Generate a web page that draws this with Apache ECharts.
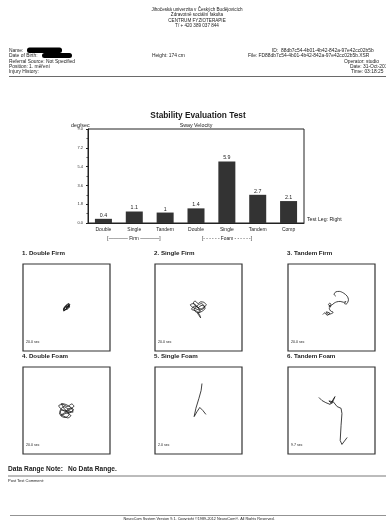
<!DOCTYPE html>
<html><head><meta charset="utf-8">
<script src="https://cdn.jsdelivr.net/npm/echarts@6/dist/echarts.min.js"></script>
<style>html,body{margin:0;padding:0;background:#fff}#c{width:386px;height:520px}</style>
</head><body><div id="c"></div>
<script>
// ---- data ----
const categories = ['Double','Single','Tandem','Double','Single','Tandem','Comp'];
const swayVelocity = [0.4, 1.1, 1, 1.4, 5.9, 2.7, 2.1];
const yMin = 0, yMax = 9.0, yStep = 1.8;
const swayTitles = ['1. Double Firm','2. Single Firm','3. Tandem Firm','4. Double Foam','5. Single Foam','6. Tandem Foam'];
const swayDurations = ['20.0 sec','20.0 sec','20.0 sec','20.0 sec','2.0 sec','9.7 sec'];
// sway traces (COG path, arbitrary units, box spans -10..10)
const trace1 = [[0,0],[0.4,0.5],[0.7,0.2],[0.3,-0.3],[-0.2,-0.5],[-0.6,-0.2],[-0.3,0.3],[0.2,0.6],[0.6,0.8],[0.5,0.1],[0,-0.2],[-0.5,-0.7],[-0.7,-0.4],[-0.2,0.1],[0.3,0.3],[0.8,0.6],[0.4,0.9],[-0.1,0.4],[-0.4,0],[-0.7,-0.8],[-0.1,-0.4],[0.3,0],[0.6,0.4],[-0.2,-0.1]];
const trace2 = [[0,0],[0.8,0.5],[1.4,0.2],[0.9,-0.4],[0.2,-0.2],[-0.6,0.4],[-1.2,1.0],[-0.8,1.5],[-0.1,0.9],[0.5,1.3],[1.2,1.2],[1.8,0.6],[1.1,0.0],[0.3,-0.6],[-0.6,-0.3],[-1.4,0.1],[-1.9,0.6],[-1.2,0.9],[-0.3,0.2],[0.4,-0.9],[-0.4,-1.1],[-1.0,-0.5],[-0.2,0.5],[0.7,0.9],[1.5,-0.2],[0.6,-1.0],[-0.2,-1.3],[0.1,-1.8],[0.5,-2.4],[0.2,-1.6],[-0.5,-0.8],[-1.6,-0.4],[-0.9,0.3],[0.1,-0.1]];
const trace3 = [[-2.0,-1.6],[-1.5,-1.2],[-1.0,-1.8],[-0.4,-1.3],[-1.2,-1.0],[-0.8,-1.6],[0.0,-1.4],[0.4,-1.1],[-0.2,-0.8],[-0.5,-0.2],[-0.2,0.3],[-0.7,0.6],[-0.4,1.0],[-0.1,0.7],[-0.6,0.2],[0.0,0.5],[0.6,1.0],[1.2,1.3],[2.0,1.4],[2.8,1.2],[3.3,1.4],[3.0,0.9],[3.4,0.8],[3.9,1.8],[3.6,2.6],[2.8,3.3],[1.8,3.7],[1.0,3.6],[0.6,3.0],[1.0,2.6]];
const trace4 = [[0,0],[1.0,0.6],[1.6,0.2],[0.8,-0.5],[-0.4,-0.2],[-1.4,0.5],[-1.8,1.1],[-0.9,1.4],[0.2,0.9],[1.2,1.5],[1.7,1.0],[0.6,0.3],[-0.6,0.9],[-1.5,-0.2],[-1.0,-1.0],[0.1,-0.6],[1.0,-1.2],[0.3,-1.7],[-0.6,-1.3],[-1.6,-0.8],[-1.1,0.1],[0.3,-0.1],[1.5,-0.4],[1.1,0.6],[-0.2,1.4],[-1.2,1.6],[-0.5,0.4],[0.6,-0.9],[-0.3,-1.6],[-1.3,-1.2],[-0.4,-0.5],[0.9,0.2]];
const trace5 = [[0.8,6.2],[0.6,4.6],[0.1,2.8],[-0.6,0.5],[-1.0,-1.4],[-0.3,-0.2],[0.3,0.7],[1.0,0.0],[1.7,-0.9]];
const trace6 = [[-2.9,3.0],[-2.2,2.3],[-1.3,1.8],[-0.3,1.4],[0.8,3.2],[0.1,1.6],[-0.6,2.2],[0.4,2.0],[1.3,0.9],[2.2,0.5],[2.4,-0.7],[2.2,-3.4],[2.0,-6.9],[2.4,-7.8],[3.6,-6.2]];
const traces = [trace1, trace2, trace3, trace4, trace5, trace6];

// ---- layout ----
const FONT = 'Liberation Sans, Arial, sans-serif';
const boxes = [[23,264],[155,264],[288,264],[23,367],[155,367],[288,367]];
const BOX = 87;

const grids = [{left:88, top:129, width:216, height:94, show:true, borderColor:'#222', borderWidth:1, backgroundColor:'#fff'}];
const xAxes = [{gridIndex:0, type:'category', data:categories,
  axisLine:{lineStyle:{color:'#222'}}, axisTick:{alignWithLabel:true, length:2, lineStyle:{color:'#222'}},
  axisLabel:{fontSize:5, color:'#222', margin:4, fontFamily:FONT}}];
const yAxes = [{gridIndex:0, type:'value', min:yMin, max:yMax, interval:yStep,
  axisLine:{show:true, lineStyle:{color:'#222'}}, axisTick:{show:true, length:2, lineStyle:{color:'#222'}},
  minorTick:{show:true, splitNumber:2, length:1.5, lineStyle:{color:'#444'}},
  splitLine:{show:false},
  axisLabel:{fontSize:4, color:'#333', margin:5, fontFamily:FONT, formatter:v=>v.toFixed(1)}}];
const series = [{type:'bar', xAxisIndex:0, yAxisIndex:0, data:swayVelocity, barWidth:17,
  itemStyle:{color:'#333'}, label:{show:true, position:'top', distance:1, fontSize:5.3, color:'#222', fontFamily:FONT}}];

boxes.forEach((b,i)=>{
  grids.push({left:b[0], top:b[1], width:BOX, height:BOX, show:true, borderColor:'#333', borderWidth:1.2});
  xAxes.push({gridIndex:i+1, type:'value', min:-10, max:10, show:false});
  yAxes.push({gridIndex:i+1, type:'value', min:-10, max:10, show:false});
  series.push({type:'line', xAxisIndex:i+1, yAxisIndex:i+1, data:traces[i], showSymbol:false, smooth:(i<4)?0.3:false,
    lineStyle:{color:'#111', width:(i===0?1.0:0.8)}, animation:false});
});

function txt(x,y,text,size,opts){
  opts = opts||{};
  return {type:'text', x:x, y:y, silent:true, style:{text:text, fill:opts.color||'#1a1a1a',
    font:(opts.bold?'bold ':'')+size+'px '+FONT, align:opts.align||'left', verticalAlign:'middle'}};
}
const g = [];
// header
g.push(txt(197,9.5,'Jihočeská univerzita v Českých Budějovicích',4.6,{align:'center'}));
g.push(txt(197,15,'Zdravotně sociální fakulta',4.6,{align:'center'}));
g.push(txt(197,20.3,'CENTRUM FYZIOTERAPIE',4.6,{align:'center'}));
g.push(txt(197,25.5,'T/ + 420 389 037 844',4.6,{align:'center'}));
// patient info
const leftInfo = ['Name:','Date of Birth:','Referral Source: Not Specified','Position: 1. měření','Injury History:'];
const infoY = [50.5,55.8,61.2,66.3,71.5];
leftInfo.forEach((t,i)=>g.push(txt(9,infoY[i],t,4.9)));
g.push({type:'rect', shape:{x:27,y:47.5,width:35,height:5.5,r:2.5}, style:{fill:'#000'}});
g.push({type:'rect', shape:{x:42,y:53,width:30,height:5,r:2.5}, style:{fill:'#000'}});
g.push(txt(152,56,'Height: 174 cm',4.9));
g.push(txt(272,50.5,'ID:  88db7c54-4b01-4b42-842a-97e42cc02b5b',4.9));
g.push(txt(248,55.8,'File: FD88db7c54-4b01-4b42-842a-97e42cc02b5b.XSR',4.9));
g.push(txt(344,61.2,'Operator: studio',4.9));
g.push(txt(350,66.3,'Date: 31-Oct-2012',4.9));
g.push(txt(351,71.5,'Time: 03:18:25',4.9));
g.push({type:'line', shape:{x1:9,y1:76.5,x2:386,y2:76.5}, style:{stroke:'#444', lineWidth:0.8}});
// chart titles
g.push(txt(198,116,'Stability Evaluation Test',8.3,{bold:true,align:'center'}));
g.push(txt(71,126,'deg/sec',5.3));
g.push(txt(196,126,'Sway Velocity',5.3,{align:'center'}));
g.push(txt(307,219.5,'Test Leg: Right',5.2,{}));
g.push(txt(134,239,'[———— Firm ————]',4.8,{align:'center'}));
g.push(txt(227,239,'[- - - - - - Foam - - - - - -]',4.8,{align:'center'}));
// sway titles and durations
boxes.forEach((b,i)=>{
  g.push(txt(b[0]-1, b[1]-10.5, swayTitles[i], 6.2, {bold:true}));
  g.push(txt(b[0]+3, b[1]+BOX-9, swayDurations[i], 3.6));
});
// footer
g.push(txt(8,469,'Data Range Note:',6.6,{bold:true}));
g.push(txt(68,469,'No Data Range.',6.6,{bold:true}));
g.push({type:'line', shape:{x1:8,y1:476,x2:386,y2:476}, style:{stroke:'#555', lineWidth:0.8}});
g.push(txt(8,481,'Post Test Comment:',4));
g.push({type:'line', shape:{x1:10,y1:515.5,x2:386,y2:515.5}, style:{stroke:'#777', lineWidth:0.8}});
g.push(txt(199,519,'NeuroCom System Version 9.1. Copyright ©1989-2012 NeuroCom®. All Rights Reserved.',3.8,{align:'center'}));

const chart = echarts.init(document.getElementById('c'), null, {renderer:'canvas'});
chart.setOption({animation:false, backgroundColor:'#fff', grid:grids, xAxis:xAxes, yAxis:yAxes, series:series, graphic:g});
</script></body></html>
